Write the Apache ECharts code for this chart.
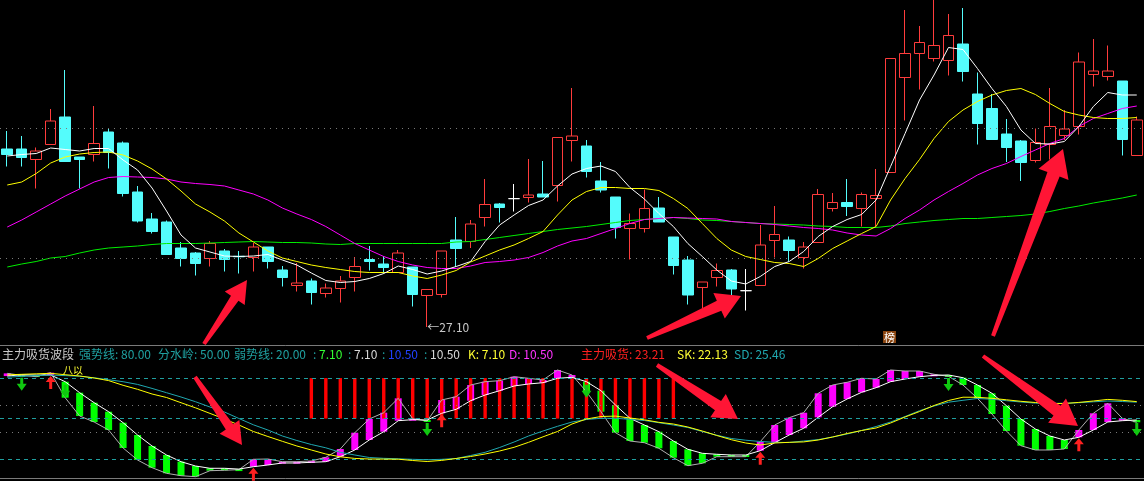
<!DOCTYPE html>
<html><head><meta charset="utf-8">
<script src="https://cdn.jsdelivr.net/npm/echarts/dist/echarts.min.js"></script>
<style>html,body{margin:0;padding:0;background:#000;}#c{width:1144px;height:481px;}</style>
</head><body><div id="c"></div>
<script>
// ---------- price panel (candles) ----------
const opens = [30.66,30.66,30.45,30.75,31.30,30.50,30.55,31.00,30.78,29.80,
 29.26,29.20,28.68,28.58,28.47,28.62,28.515,28.49,28.70,28.24,
 27.93,28.02,27.77,27.87,28.09,28.45,28.36,28.19,28.30,27.73,
 27.75,28.84,28.81,29.29,29.56,29.667,29.69,29.76,29.93,30.83,
 30.72,30.02,29.70,29.07,29.07,29.48,28.90,28.44,27.89,28.09,
 28.24,27.826,27.93,28.83,28.84,28.49,28.79,29.47,29.59,29.47,
 29.67,30.19,32.09,32.57,32.47,32.43,32.76,31.76,31.47,30.96,
 30.82,30.43,30.75,30.93,31.11,32.15,32.11,32.02,30.53];
const closes = [30.55,30.49,30.62,31.22,30.41,30.45,30.77,30.59,29.77,29.22,
 29.01,28.55,28.47,28.37,28.77,28.45,28.505,28.70,28.41,28.09,
 27.98,27.79,27.88,28.02,28.31,28.41,28.29,28.58,27.75,27.85,
 28.62,28.67,29.16,29.55,29.49,29.667,29.74,29.70,30.89,30.92,
 30.21,29.84,29.09,29.17,29.47,29.20,28.33,27.74,28.00,28.23,
 27.86,27.826,28.74,28.95,28.63,28.70,29.75,29.59,29.51,29.75,
 29.73,32.47,32.57,32.79,32.73,32.93,32.21,31.17,30.85,30.69,
 30.39,30.79,31.11,31.06,32.40,32.22,32.22,30.85,31.24];
const lows = [30.31,30.31,29.87,30.75,30.41,29.87,30.41,30.27,29.71,29.19,
 28.97,28.55,28.31,28.13,28.31,28.21,28.17,28.21,28.27,27.91,
 27.81,27.55,27.69,27.59,27.81,28.23,28.17,28.19,27.51,27.10,
 27.69,28.30,28.68,29.11,29.19,29.41,29.59,29.70,29.61,30.41,
 30.09,29.79,28.87,28.45,28.99,29.20,28.15,27.55,27.47,27.91,
 27.74,27.43,27.93,28.49,28.41,28.27,28.79,29.41,29.32,29.11,
 29.11,30.19,31.23,31.85,32.41,32.13,32.01,30.75,30.85,30.40,
 30.02,30.39,30.45,30.84,30.95,31.91,32.03,30.53,30.53];
const highs = [31.02,30.92,30.69,31.46,32.24,30.50,31.52,31.06,30.81,29.92,
 29.38,29.23,28.80,28.60,28.82,28.66,28.62,28.78,28.70,28.32,
 28.38,28.07,27.97,28.12,28.50,28.72,28.52,28.64,28.30,27.85,
 28.62,29.30,29.24,30.06,29.58,29.96,30.46,30.42,30.89,31.88,
 30.84,30.40,29.70,29.37,29.85,29.70,28.90,28.52,28.00,28.37,
 28.26,28.26,29.14,29.52,28.91,28.80,29.86,29.78,30.06,29.79,
 30.26,32.47,33.44,33.12,33.64,33.36,33.48,32.19,31.76,31.26,
 30.84,31.07,31.88,31.44,32.59,32.86,32.73,32.02,31.31];
const maWhite = [30.52,30.55,30.57,30.68,30.65,30.62,30.67,30.67,30.44,30.24,
 29.88,29.42,28.94,28.68,28.60,28.52,28.51,28.52,28.55,28.44,
 28.34,28.18,28.03,27.99,28.01,28.07,28.17,28.32,28.25,28.16,
 28.22,28.31,28.41,28.81,29.14,29.34,29.53,29.64,29.92,30.16,
 30.27,30.32,30.21,29.89,29.66,29.37,29.11,28.77,28.51,28.24,
 28.02,27.96,28.11,28.31,28.41,28.61,28.91,29.11,29.25,29.35,
 29.64,30.31,30.97,31.64,32.14,32.69,32.65,32.27,31.87,31.51,
 31.04,30.77,30.76,30.81,31.11,31.51,31.79,31.74,31.74];
const maYellow = [29.94,30.00,30.17,30.38,30.50,30.56,30.59,30.60,30.54,30.42,
 30.26,30.06,29.82,29.56,29.40,29.22,28.98,28.80,28.62,28.48,
 28.41,28.34,28.29,28.25,28.21,28.19,28.19,28.19,28.12,28.07,
 28.14,28.23,28.40,28.52,28.64,28.74,28.87,29.01,29.34,29.64,
 29.81,29.89,29.89,29.87,29.87,29.83,29.67,29.47,29.17,28.87,
 28.64,28.51,28.45,28.39,28.37,28.31,28.47,28.67,28.82,28.97,
 29.11,29.64,30.07,30.45,30.87,31.21,31.44,31.61,31.74,31.83,
 31.87,31.75,31.57,31.41,31.34,31.29,31.27,31.27,31.29];
const maMagenta = [29.10,29.24,29.40,29.56,29.72,29.86,30.00,30.09,30.11,30.10,
 30.09,30.06,30.00,29.97,29.95,29.92,29.84,29.76,29.64,29.48,
 29.36,29.25,29.11,28.94,28.77,28.64,28.51,28.41,28.34,28.29,
 28.27,28.27,28.32,28.39,28.41,28.44,28.49,28.59,28.72,28.82,
 28.87,28.97,29.07,29.17,29.25,29.27,29.29,29.28,29.27,29.26,
 29.21,29.19,29.17,29.15,29.12,29.09,29.07,29.04,28.98,28.94,
 28.92,29.07,29.27,29.44,29.64,29.81,29.97,30.14,30.27,30.37,
 30.51,30.64,30.77,30.87,31.11,31.27,31.37,31.47,31.52];
const maGreen = [28.30,28.36,28.41,28.48,28.51,28.58,28.64,28.68,28.70,28.72,
 28.75,28.77,28.77,28.77,28.78,28.79,28.80,28.81,28.80,28.79,
 28.79,28.78,28.76,28.75,28.77,28.77,28.77,28.77,28.77,28.77,
 28.77,28.80,28.81,28.85,28.89,28.93,28.97,29.01,29.05,29.08,
 29.11,29.15,29.19,29.23,29.25,29.27,29.29,29.27,29.24,29.23,
 29.21,29.19,29.17,29.16,29.15,29.14,29.12,29.11,29.09,29.09,
 29.09,29.12,29.17,29.20,29.23,29.25,29.27,29.27,29.29,29.31,
 29.33,29.36,29.41,29.47,29.52,29.58,29.63,29.68,29.74];
const priceGuides = [31.08, 28.48];

// ---------- indicator panel ----------
const waveA = [81.5,82.5,82.28,82.28,77.32,69.17,61.77,55.10,46.96,37.85,
 29.70,23.04,18.08,14.89,13.19,13.19,12.6,14.37,15.63,17.11,
 17.11,17.63,18.08,21.78,26.74,34.15,40.29,48.44,49.2,48.96,
 53.92,56.88,63.25,67.47,70.66,74.14,75.62,76.58,79.84,80.57,
 77.32,70.66,60.07,50.22,45.25,40.29,33.40,27.26,24.30,23.56,
 23.04,23.04,26.22,32.14,37.85,42.81,50.96,58.81,64.51,69.47,
 72.88,77.32,79.32,81.02,82.0,82.3,80.28,74.88,68.73,59.55,
 49.70,42.29,37.11,34.15,36.14,41.55,47.48,48.44,48.96];
const waveB = [83.5,82.0,81.02,83.99,65.47,51.92,47.48,41.55,28.22,19.33,
 13.63,9.48,7.71,6.97,11.41,11.71,12.2,19.85,20.07,18.08,
 18.08,18.6,21.33,27.48,39.55,49.70,54.36,65.03,49.9,48.22,
 63.77,66.21,74.87,77.32,78.06,81.02,79.84,78.58,85.99,82.28,
 69.91,55.10,39.55,33.40,32.14,27.99,21.04,15.11,16.89,21.78,
 21.78,21.78,32.89,45.25,50.66,54.36,68.73,74.88,76.88,79.84,
 79.32,85.99,85.25,85.25,82.8,81.3,74.88,65.03,53.40,40.81,
 29.92,26.74,26.74,27.48,41.55,53.92,61.32,50.22,47.26];
const skLine = [82.42,82.79,83.16,83.53,82.50,81.53,80.05,78.13,74.65,71.68,
 68.20,65.61,61.76,57.98,53.84,49.69,45.24,40.43,36.73,33.17,
 29.69,26.73,23.77,21.69,20.51,20.06,19.99,19.92,18.95,18.21,
 19.03,20.44,21.92,23.77,25.99,28.73,32.43,36.51,40.43,45.99,
 49.69,51.54,51.84,50.43,49.10,47.24,45.99,43.76,40.80,37.47,
 34.36,31.91,30.43,31.91,32.43,32.73,34.14,36.36,38.95,41.17,
 43.02,46.73,51.17,55.24,59.69,63.39,65.83,65.76,65.02,63.91,
 62.80,61.91,61.09,61.17,61.98,63.02,64.20,63.54,62.58];
const sdLine = [80.65,81.31,81.90,82.20,81.83,81.39,80.20,78.79,77.31,75.31,
 72.35,69.17,65.98,62.50,58.58,54.87,50.06,45.39,41.54,37.10,
 33.77,30.80,28.36,25.03,23.03,21.18,20.58,20.21,19.84,19.55,
 19.84,20.44,22.66,25.03,28.58,32.65,37.10,40.80,44.28,47.47,
 49.32,50.21,50.21,49.47,48.58,46.95,45.24,43.39,40.43,37.69,
 35.25,33.99,33.03,32.43,32.28,33.40,34.43,36.36,38.58,41.17,
 44.13,47.47,51.54,55.84,59.32,62.13,63.54,64.87,64.35,63.24,
 62.28,61.46,61.32,61.32,61.76,62.43,63.02,62.65,62.13];
const absorbDays = [21,22,23,24,25,26,27,28,29,30,31,32,33,34,35,36,37,38,39,40,41,42,43,44,45,46];
const buyDays = [3, 17, 30, 52, 74];
const sellDays = [1, 4, 29, 40, 65, 78];
const levelLines = [80, 50, 20];
const midLines = [60, 40];

const days = opens.map((_, i) => 'D' + (i + 1));
const FONT = '"Noto Sans CJK SC", "Noto Sans", sans-serif';

const candleData = opens.map((o, i) => {
  const it = { value: [o, closes[i], lows[i], highs[i]] };
  if (o === closes[i]) it.itemStyle = { color: '#fff', color0: '#fff', borderColor: '#fff', borderColor0: '#fff', borderColorDoji: '#fff' };
  return it;
});
let lowIdx = 0; lows.forEach((v, i) => { if (v < lows[lowIdx]) lowIdx = i; });

const barData = waveA.map((a, i) => [i, a, waveB[i]]);
const stickData = absorbDays.map(i => [i, levelLines[1], levelLines[0]]);
const signalData = buyDays.map(i => [i, Math.min(waveA[i], waveB[i]), 1])
  .concat(sellDays.map(i => [i, waveA[i], -1]));

function maSeries(name, data, color) {
  return { name, type: 'line', xAxisIndex: 0, yAxisIndex: 0, data, symbol: 'none', silent: true,
    lineStyle: { color, width: 1 }, z: 3 };
}
function lineSeries(name, data, color, z) {
  return { name, type: 'line', xAxisIndex: 1, yAxisIndex: 1, data, symbol: 'none', silent: true,
    lineStyle: { color, width: 1 }, z };
}

// header
const header = [
  { t: '主力吸货波段', x: 2, c: '#c8c8c8' },
  { t: '强势线: ' + levelLines[0].toFixed(2), x: 79, c: '#1fa0a0' },
  { t: '分水岭: ' + levelLines[1].toFixed(2), x: 158, c: '#1fa0a0' },
  { t: '弱势线: ' + levelLines[2].toFixed(2), x: 234, c: '#1fa0a0' },
  { t: ':', x: 313, c: '#1fa0a0' }, { t: '7.10', x: 319, c: '#33ff33' },
  { t: ':', x: 348, c: '#1fa0a0' }, { t: '7.10', x: 354, c: '#d8d8d8' },
  { t: ':', x: 382, c: '#1fa0a0' }, { t: '10.50', x: 388, c: '#2040ff' },
  { t: ':', x: 424, c: '#1fa0a0' }, { t: '10.50', x: 430, c: '#d8d8d8' },
  { t: 'K: 7.10', x: 468, c: '#ffff33' },
  { t: 'D: 10.50', x: 509, c: '#ff33ff' },
  { t: '主力吸货: 23.21', x: 581, c: '#ff2020' },
  { t: 'SK: 22.13', x: 677, c: '#ffff33' },
  { t: 'SD: 25.46', x: 734, c: '#20a8b0' }
];

function arrowPts(tail, tip, headLen, headW, wTail, wHead) {
  const dx = tip[0] - tail[0], dy = tip[1] - tail[1], L = Math.hypot(dx, dy);
  const ux = dx / L, uy = dy / L, nx = -uy, ny = ux;
  const bx = tip[0] - ux * headLen, by = tip[1] - uy * headLen;
  return [
    [tail[0] + nx * wTail / 2, tail[1] + ny * wTail / 2],
    [bx + nx * wHead / 2, by + ny * wHead / 2],
    [bx + nx * headW / 2, by + ny * headW / 2],
    tip,
    [bx - nx * headW / 2, by - ny * headW / 2],
    [bx - nx * wHead / 2, by - ny * wHead / 2],
    [tail[0] - nx * wTail / 2, tail[1] - ny * wTail / 2]
  ];
}
const notes = [
  [[204, 344], [247, 280], 22, 24, 4, 9],
  [[647, 338], [741, 296], 24, 28, 4, 11],
  [[993, 336], [1063, 149], 27, 32, 4, 13],
  [[195, 377], [242, 445], 22, 24, 4, 9],
  [[657, 365], [738, 419], 24, 28, 4, 11],
  [[983, 356], [1078, 426], 26, 30, 4, 12]
];

const graphic = header.map(h => ({
  type: 'text', x: h.x, y: 354, z: 50,
  style: { text: h.t, fill: h.c, font: '12px ' + FONT, textVerticalAlign: 'middle', verticalAlign: 'middle' }
}));
graphic.push({ type: 'text', x: 63, y: 370, z: 50,
  style: { text: '八以', fill: '#ffff33', font: '10px ' + FONT, textVerticalAlign: 'middle', verticalAlign: 'middle' } });
graphic.push({ type: 'rect', shape: { x: 883, y: 331, width: 13, height: 12 }, style: { fill: '#8a4510' }, z: 50 });
graphic.push({ type: 'text', x: 889.5, y: 337.5, z: 51,
  style: { text: '榜', fill: '#ffffff', font: '11px ' + FONT, textAlign: 'center', align: 'center', textVerticalAlign: 'middle', verticalAlign: 'middle' } });
notes.forEach(n => graphic.push({ type: 'polygon', z: 60, shape: { points: arrowPts(n[0], n[1], n[2], n[3], n[4], n[5]) }, style: { fill: '#ff1535' } }));

const option = {
  backgroundColor: '#000',
  animation: false,
  grid: [
    { left: -2, width: 1147, top: 0, height: 345 },
    { left: -2, width: 1147, top: 345, height: 133 }
  ],
  xAxis: [
    { type: 'category', gridIndex: 0, data: days, axisLine: { show: true, lineStyle: { color: '#7a7a7a' } }, axisTick: { show: false }, axisLabel: { show: false }, splitLine: { show: false } },
    { type: 'category', gridIndex: 1, data: days, axisLine: { show: true, lineStyle: { color: '#7a7a7a' } }, axisTick: { show: false }, axisLabel: { show: false }, splitLine: { show: false } }
  ],
  yAxis: [
    { type: 'value', gridIndex: 0, min: 26.74, max: 33.64, show: false },
    { type: 'value', gridIndex: 1, min: 6, max: 104.5, show: false }
  ],
  graphic,
  series: [
    { type: 'line', xAxisIndex: 0, yAxisIndex: 0, data: [], silent: true, z: 1,
      markLine: { silent: true, symbol: 'none', label: { show: false },
        lineStyle: { color: '#7a7a7a', type: [1, 5], width: 1 },
        data: priceGuides.map(v => ({ yAxis: v })) } },
    { type: 'candlestick', xAxisIndex: 0, yAxisIndex: 0, data: candleData, barWidth: 11, z: 2,
      itemStyle: { color: '#000', color0: '#54fcfc', borderColor: '#ff3c3c', borderColor0: '#54fcfc', borderWidth: 1 },
      markPoint: { silent: true, symbol: 'circle', symbolSize: 0.1, itemStyle: { color: 'transparent' },
        label: { show: true, position: 'right', distance: 0, color: '#c8c8c8', fontSize: 12, fontFamily: FONT,
          formatter: '←' + lows[lowIdx].toFixed(2) },
        data: [{ coord: [days[lowIdx], lows[lowIdx]] }] } },
    maSeries('MA60', maGreen, '#00ee00'),
    maSeries('MA20', maMagenta, '#ff00ff'),
    maSeries('MA10', maYellow, '#ffff00'),
    maSeries('MA5', maWhite, '#ffffff'),
    { type: 'line', xAxisIndex: 1, yAxisIndex: 1, data: [], silent: true, z: 1,
      markLine: { silent: true, symbol: 'none', label: { show: false },
        data: levelLines.map(v => ({ yAxis: v, lineStyle: { color: '#1f9e9e', type: [4, 4], width: 1 } }))
          .concat(midLines.map(v => ({ yAxis: v, lineStyle: { color: '#7a7a7a', type: [1, 5], width: 1 } }))) } },
    { type: 'custom', xAxisIndex: 1, yAxisIndex: 1, data: barData, encode: { x: 0, y: [1, 2] }, silent: true, z: 2,
      renderItem(params, api) {
        const i = api.value(0), a = api.value(1), b = api.value(2);
        const pa = api.coord([i, a]), pb = api.coord([i, b]);
        const y0 = Math.min(pa[1], pb[1]), h = Math.max(Math.abs(pa[1] - pb[1]), 2);
        return { type: 'rect', shape: { x: pa[0] - 3.5, y: y0, width: 7, height: h },
          style: { fill: b > a ? '#ff00ff' : '#00ff00' } };
      } },
    { type: 'custom', xAxisIndex: 1, yAxisIndex: 1, data: stickData, encode: { x: 0, y: [1, 2] }, silent: true, z: 3,
      renderItem(params, api) {
        const i = api.value(0);
        const p0 = api.coord([i, api.value(1)]), p1 = api.coord([i, api.value(2)]);
        return { type: 'rect', shape: { x: p0[0] - 1.7, y: p1[1], width: 3.4, height: p0[1] - p1[1] },
          style: { fill: '#ff0000' } };
      } },
    lineSeries('B', waveB, '#b0b0b0', 4),
    lineSeries('A', waveA, '#ffffff', 4),
    lineSeries('SD', sdLine, '#20a8b0', 5),
    lineSeries('SK', skLine, '#ffff00', 5),
    { type: 'custom', xAxisIndex: 1, yAxisIndex: 1, data: signalData, encode: { x: 0, y: 1 }, silent: true, z: 6,
      renderItem(params, api) {
        const p = api.coord([api.value(0), api.value(1)]);
        const x = p[0];
        if (api.value(2) > 0) {
          const y = p[1] + 1;
          return { type: 'polygon', shape: { points: [[x, y], [x - 5, y + 6], [x - 1.5, y + 6], [x - 1.5, y + 13], [x + 1.5, y + 13], [x + 1.5, y + 6], [x + 5, y + 6]] },
            style: { fill: '#ff2020' } };
        }
        const y = p[1] + 3;
        return { type: 'polygon', shape: { points: [[x - 1.5, y], [x + 1.5, y], [x + 1.5, y + 6], [x + 5, y + 6], [x, y + 13], [x - 5, y + 6], [x - 1.5, y + 6]] },
          style: { fill: '#10c810' } };
      } }
  ]
};
const chart = echarts.init(document.getElementById('c'), null, { renderer: 'canvas' });
chart.setOption(option);
</script></body></html>
